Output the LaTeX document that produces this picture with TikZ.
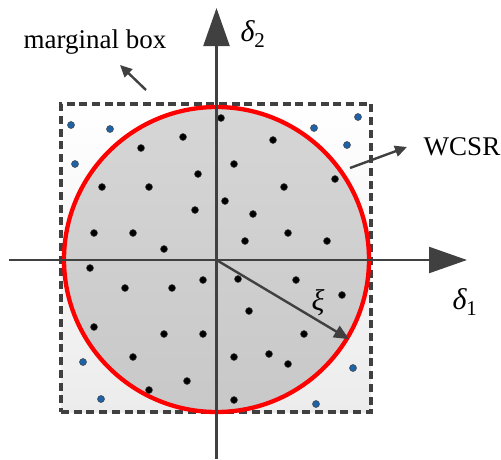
\documentclass[tikz,border=0pt]{standalone}
\usepackage{fontspec}
\setmainfont{Liberation Serif}
\usetikzlibrary{arrows.meta,positioning}
\definecolor{axisGray}{HTML}{404040}
\definecolor{wcsrRed}{HTML}{FF0000}
\definecolor{sampleBlue}{HTML}{1F63A6}
\definecolor{discTop}{HTML}{D6D6D6}
\definecolor{discBottom}{HTML}{C8C8C8}
\definecolor{boxBottom}{HTML}{ECECEC}

\begin{document}
\begin{tikzpicture}[
  x=1pt, y=-1pt,
  axis/.style={draw=axisGray, line width=2.4pt, -{Triangle[length=38pt,width=26pt]}},
  pointer/.style={draw=axisGray, line width=2.4pt, -{Triangle[length=12pt,width=11pt]}},
  boxtext/.style={font=\fontsize{27}{30}\selectfont, inner sep=0pt},
  symb/.style={font=\fontsize{30}{32}\selectfont\itshape, inner sep=0pt},
  insample/.style={circle, fill=black, draw=axisGray, line width=0.5pt, inner sep=0pt, minimum size=7pt},
  outsample/.style={circle, fill=sampleBlue, draw=axisGray, line width=0.5pt, inner sep=0pt, minimum size=7pt}
]
\useasboundingbox (0,0) rectangle (501,459);

% marginal box and the circular region
\node[
  draw=axisGray,
  line width=3.4pt,
  dash pattern=on 8pt off 4.7pt,
  top color=white,
  bottom color=boxBottom,
  minimum width=310pt,
  minimum height=308pt,
  inner sep=0pt
] (mbox) at (216,258) {};
\node[
  circle,
  draw=wcsrRed,
  line width=4.3pt,
  top color=discTop,
  bottom color=discBottom,
  minimum size=305pt,
  inner sep=0pt
] (wcsr) at (216.5,259.5) {};

% samples
\foreach \px/\py [count=\i] in {221/118,183/137,141/148,273/140,198/174,234/164,102/187,149/187,
    335/179,284/187,195/210,225/201,253/214,94/233,133/233,288/233,164/249,245/241,327/241,
    90/268,125/288,172/288,203/280,238/279,296/280,342/295,249/311,94/327,164/334,203/334,
    304/334,133/357,234/357,269/354,288/364,187/381,149/390,234/400}
  \node[insample] (in\i) at (\px,\py) {};
\foreach \px/\py [count=\i] in {71/125,110/129,75/164,314/128,358/117,347/145,83/362,101/399,353/368,316/404}
  \node[outsample] (out\i) at (\px,\py) {};

% axes
\coordinate (O) at (216.5,260);
\coordinate (xstart) at (9,260);
\coordinate (xtip) at (467,260);
\coordinate (ystart) at (216.5,459);
\coordinate (ytip) at (216.5,8);
\draw[axis] (xstart) -- (xtip);
\draw[axis] (ystart) -- (ytip);
\draw[draw=axisGray, line width=2.4pt, -{Triangle[length=15pt,width=13pt]}] (O) -- (wcsr.-31.5);

% labels
\node[symb] (d1) at (465,302) {δ\textsubscript{\upshape 1}};
\node[symb] (d2) at (253,34) {δ\textsubscript{\upshape 2}};
\node[symb] (xi) at (318,303) {ξ};
\node[boxtext] (mboxlabel) at (95,42) {marginal box};
\node[boxtext] (wcsrlabel) at (462,147) {WCSR};

% pointers
\coordinate (mbtail) at (146,90);
\coordinate (mbhead) at (120,65);
\coordinate (wcsrtail) at (350,168);
\coordinate (wcsrhead) at (407,147);
\draw[pointer] (mbtail) -- (mbhead);
\draw[pointer] (wcsrtail) -- (wcsrhead);
\end{tikzpicture}
\end{document}
